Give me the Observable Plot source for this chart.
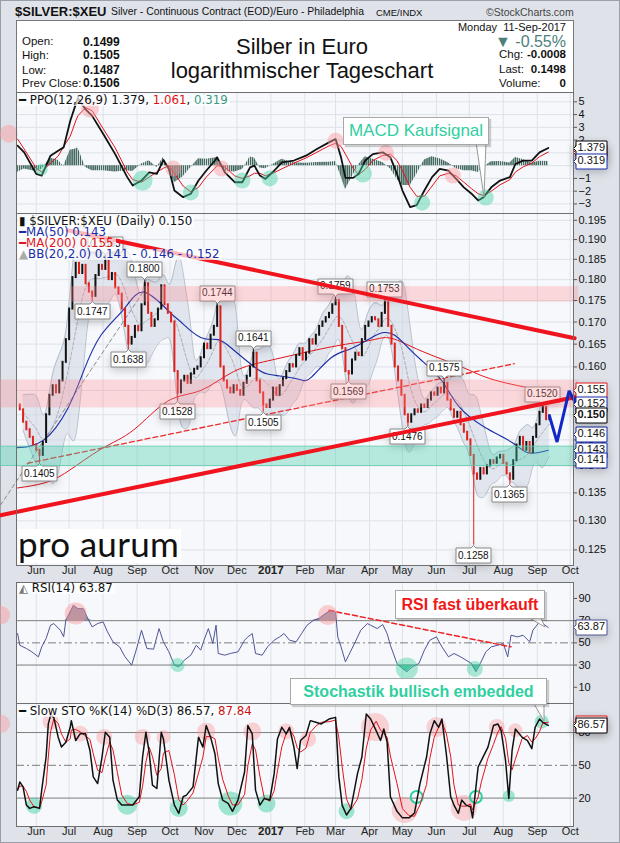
<!DOCTYPE html>
<html><head><meta charset="utf-8">
<script src="https://cdn.jsdelivr.net/npm/d3@7"></script>
<script src="https://cdn.jsdelivr.net/npm/@observablehq/plot@0.6"></script>
<style>
html,body{margin:0;padding:0;background:#fff;}
#wrap{position:relative;width:620px;height:843px;background:#dfe3e9;overflow:hidden;font-family:"Liberation Sans",Arial,sans-serif;color:#111;}
.a{position:absolute;white-space:nowrap;}
.leg{position:absolute;white-space:nowrap;font-family:"DejaVu Sans",sans-serif;font-size:11.8px;line-height:11px;background:rgba(255,255,255,0.7);padding:0 2px 0 1px;}
.call{position:absolute;background:#fff;border:1px solid #a8a8a8;box-shadow:2px 2px 1px rgba(0,0,0,0.18);text-align:center;white-space:nowrap;}
</style></head><body><div id="wrap"></div><script>
const wrap = document.getElementById("wrap");
const START = Date.UTC(2016, 4, 14);
const day = k => new Date(START + k * 864e5);
const X_DOMAIN = [day(0), day(508)];
const FONT = "'Liberation Sans', Arial, sans-serif";

// ---------- data ----------
const closeStepDays = 3;
const closes = [
0.1520,0.1510,0.1485,0.1470,0.1455,0.1440,0.1430,0.1420,0.1445,0.1500,
0.1540,0.1560,0.1545,0.1570,0.1610,0.1660,0.1730,0.1805,0.1840,0.1815,
0.1835,0.1790,0.1770,0.1760,0.1810,0.1835,0.1825,0.1845,0.1800,0.1815,
0.1780,0.1765,0.1730,0.1690,0.1650,0.1665,0.1690,0.1680,0.1740,0.1790,
0.1720,0.1690,0.1705,0.1730,0.1785,0.1740,0.1720,0.1700,0.1590,0.1545,
0.1570,0.1580,0.1565,0.1585,0.1595,0.1600,0.1620,0.1650,0.1640,0.1670,
0.1690,0.1735,0.1600,0.1570,0.1555,0.1545,0.1560,0.1550,0.1540,0.1565,
0.1580,0.1600,0.1630,0.1570,0.1545,0.1520,0.1515,0.1530,0.1555,0.1540,
0.1560,0.1575,0.1590,0.1605,0.1600,0.1625,0.1640,0.1615,0.1630,0.1660,
0.1650,0.1670,0.1690,0.1700,0.1710,0.1720,0.1740,0.1750,0.1690,0.1640,
0.1590,0.1585,0.1615,0.1630,0.1625,0.1660,0.1690,0.1700,0.1710,0.1705,
0.1690,0.1720,0.1745,0.1690,0.1650,0.1600,0.1570,0.1540,0.1500,0.1485,
0.1500,0.1510,0.1505,0.1520,0.1515,0.1530,0.1545,0.1540,0.1555,0.1545,
0.1565,0.1530,0.1510,0.1495,0.1505,0.1480,0.1465,0.1450,0.1420,0.1385,
0.1375,0.1395,0.1385,0.1400,0.1410,0.1405,0.1415,0.1420,0.1405,0.1385,
0.1375,0.1410,0.1440,0.1455,0.1430,0.1445,0.1425,0.1455,0.1480,0.1505,
0.1515,0.1490,0.1498];

const priceHighLabels = [[82,0.1863],[116,0.1800],[184,0.1744],[216,0.1641],[290,0.1759],[335,0.1753],[389,0.1575],[479,0.1520]];
const priceLowLabels = [[20,0.1405],[69,0.1747],[101,0.1638],[147,0.1528],[226,0.1505],[303,0.1569],[356,0.1476],[418,0.1258],[449,0.1365]];

const ma50 = [[0,0.1435],[25,0.145],[47,0.1514],[61,0.159],[77,0.167],[98,0.173],[116,0.177],[138,0.1727],[150,0.170],[168,0.1665],[184,0.166],[198,0.1637],[217,0.160],[229,0.1585],[248,0.1578],[260,0.1572],[269,0.1578],[287,0.162],[305,0.164],[324,0.1665],[335,0.1676],[345,0.167],[356,0.1645],[369,0.1615],[388,0.157],[403,0.1518],[427,0.1475],[452,0.1445],[467,0.1425],[485,0.143]];
const ma200 = [[1,0.1359],[25,0.1368],[47,0.139],[77,0.1432],[107,0.147],[138,0.1528],[168,0.155],[198,0.159],[229,0.1613],[260,0.163],[296,0.1648],[324,0.1659],[342,0.1663],[369,0.1635],[406,0.160],[436,0.1572],[476,0.1552],[485,0.155]];

const trendUpper = [[46.6,0.1924],[509,0.1663]];
const trendLower = [[-14.6,0.131],[509,0.1536]];
const trendRedDashed = [[10,0.1405],[454,0.1607]];
const trendGrayDashed = [[-14.6,0.1328],[118,0.178]];
const pinkBands = [[49.4,512.8,0.1746,0.1783],[-14.6,512.8,0.1514,0.1572]];
const tealBands = [[-14.6,512.8,0.1400,0.1437]];
const projection = [[486,0.1498],[493,0.1446],[504,0.1549],[509,0.1527],[515.5,0.1562]];

const priceTicks = [0.125,0.130,0.135,0.140,0.145,0.150,0.155,0.160,0.165,0.170,0.175,0.180,0.185,0.190,0.195];
const priceTickLabels = [0.125,0.130,0.135,0.140,0.145,0.160,0.165,0.170,0.175,0.180,0.185,0.190,0.195];
const priceTags = [[0.155,"#e3141b","0.155"],[0.152,"#1b2ca8","0.152"],[0.146,"#1b2ca8","0.146"],[0.143,"#1b2ca8","0.143"],[0.141,"#1b2ca8","0.141"]];
const priceLastTag = [[0.1498,"#000","0.150"]];

const ppoDays = [1,7,18,23,31,38,43,49,54,56,63,69,79,90,101,106,114,121,128,134,139,144,152,159,166,173,181,183,190,199,206,213,217,222,227,235,242,253,264,274,285,291,296,300,307,312,318,325,334,341,347,352,359,365,372,379,386,394,401,408,415,421,426,433,441,450,455,462,470,477,485];
const ppoLine = [1.56,1.04,-0.65,-0.78,0.78,1.17,1.43,3.5,4.8,5.3,4.4,3.9,2.5,0.9,-0.9,-1.56,-1.17,-0.52,-0.65,0.44,-0.26,-1.95,-2.47,-2.2,-1.17,-0.4,0.4,0.65,-0.52,-1.3,-1.3,-0.13,0,-0.78,-1.04,-0.4,0.26,0.4,0.78,1.3,1.82,2.08,0.65,-0.96,-0.96,-0.65,0.4,0.9,1.04,0.65,-0.65,-1.95,-3.25,-3.1,-1.95,-0.9,-0.26,-0.4,-1.04,-1.7,-2.2,-2.73,-2.47,-1.7,-1.17,-0.9,0.13,0.39,0.39,1.04,1.38];
const ppoSignal = [2.08,1.3,-0.2,-0.5,0.2,0.75,1.5,2.3,3.5,3.9,4.55,4.3,2.9,1.4,-0.5,-1.1,-1.3,-0.9,-0.5,-0.2,0,-0.6,-1.6,-2.05,-1.7,-0.9,-0.2,0,-0.1,-0.8,-1.0,-0.8,-0.6,-0.6,-0.8,-0.55,-0.25,0.2,0.6,1.05,1.55,1.75,1.5,0.9,-0.2,-0.7,-0.3,0.4,0.8,0.9,0.4,-0.4,-1.7,-2.4,-2.4,-1.6,-0.8,-0.6,-0.8,-1.3,-1.8,-2.2,-2.35,-2.0,-1.5,-1.1,-0.5,-0.1,0.2,0.7,1.06];
const ppoTicks = [-3,-2,-1,0,1,2,3,4,5];
const ppoTickLabels = [-3,-2,-1,2,3,4,5];
const ppoPink = [[-7,2.5,9],[67,4.46,9],[143,-0.23,8],[187,-0.23,8],[291,1.95,8],[337,1.0,8],[398,-0.78,8]];
const ppoGreen = [[23,-0.3,6],[115,-1.17,10],[159,-2.1,8],[206,-1.17,8],[231,-1.0,8],[316,-0.62,9],[370,-2.9,8],[428,-2.5,8]];

const rsiDays = [1,3,9,14,20,23,27,31,34,40,43,45,49,52,56,61,65,69,74,79,83,88,94,99,105,110,114,119,125,130,134,139,144,148,153,159,164,168,171,175,179,182,184,190,195,202,208,211,215,218,224,229,235,240,244,249,255,260,265,271,276,282,287,291,293,296,300,303,309,314,320,323,329,334,338,341,347,352,356,361,367,372,377,383,388,394,399,405,410,415,419,423,428,433,439,444,448,451,457,462,468,471,477,480,485];
const rsiValues = [58.4,47.9,44.9,41.9,37.4,46.4,53.9,65.9,67.4,61.4,55.4,70.4,77.8,83.8,80.8,80.8,71.9,64.4,67.4,68.9,59.9,50.9,46.4,37.4,29.9,46.4,61.4,44.9,44.3,62.9,50.9,41.9,29.9,28.4,34.4,38.9,47.9,43.4,52.4,62.9,49.4,65.9,40.4,38.9,40.4,41.9,52.4,55.4,58.4,40.4,38.9,46.4,52.4,55.4,58.4,52.4,50.9,58.4,65.9,70.4,71.9,76.4,79.3,77.8,55.4,46.4,32.9,38.9,50.9,61.4,67.4,65.9,62.9,66.5,58.4,47.9,31.4,26.9,24.0,28.4,31.4,43.4,52.4,55.4,46.4,37.4,40.4,37.4,34.4,31.4,24.0,31.4,41.9,46.4,47.9,49.4,37.4,56.9,55.4,56.9,50.9,61.4,68.9,67.4,63.87];
const rsiTicks = [10,30,50,70,90];
const rsiTrend = [[285,79.3],[451,46.4]];
const rsiPink = [[-14,75,9],[54,76.5,11],[284,75,10]];
const rsiGreen = [[147,30,7],[356,27,11],[418,26.5,8]];

const stoDays = [1,3,6,9,12,16,21,23,27,29,31,34,38,41,45,49,50,54,58,63,67,70,74,78,81,85,88,92,96,101,106,112,115,118,121,124,128,132,134,139,144,148,152,155,161,166,170,173,177,181,184,188,193,197,202,208,211,215,218,222,226,231,235,238,242,246,249,253,256,259,264,268,273,278,285,291,294,297,301,305,311,315,319,323,328,332,335,338,341,347,352,358,363,368,374,377,381,385,388,392,396,399,403,406,410,414,416,421,424,430,435,439,442,446,449,452,455,461,466,470,473,477,480,485];
const stoK = [27.3,34.8,30.3,13.6,10.6,12.1,10.6,27.3,57.6,87.9,95.5,93.9,75.8,66.7,71.2,84.8,90.9,72.7,78.8,78.8,63.6,39.4,33.3,57.6,80.3,75.8,36.4,18.2,13.6,13.6,13.6,21.2,57.6,80.3,62.1,31.8,28.8,80.3,74.2,36.4,13.6,6.1,21.2,22.7,30.3,75.8,66.7,86.4,75.8,60.6,33.3,18.2,15.2,7.9,18.2,43.9,86.4,78.8,27.3,13.6,19.7,18.2,42.4,74.2,84.8,78.8,84.8,66.7,47.0,72.7,77.3,90.9,89.4,87.9,92.4,93.9,39.4,13.6,4.5,10.6,42.4,57.6,97.0,92.4,81.8,72.7,83.3,71.2,21.2,7.9,1.9,1.9,6.4,33.3,57.6,78.8,90.9,84.8,92.4,60.6,21.2,13.6,6.1,18.2,13.6,12.1,1.9,48.5,54.5,66.7,86.4,87.9,81.8,54.5,19.7,63.6,83.3,75.8,72.7,65.2,84.8,92.4,89.4,86.57];
const stoTicks = [20,50,80];
const stoPink = [[-14,88,9],[31,90,8],[58,79,8],[80,76,8],[115,76,8],[134,76,7],[173,81,9],[215,81,9],[246,81,8],[266,74,8],[327,85,14],[383,85,10],[438,85,8],[455,82,7],[354,9,13],[408,11,13]];
const stoGreen = [[16,13,8],[101,14,10],[148,11,9],[195,15,12],[228,15,9],[301,8,8],[449,22,6],[479,90,7]];
const stoRings = [[365,21,6],[419,21,6]];

const monthDates = ["2016-06-01","2016-07-01","2016-08-01","2016-09-01","2016-10-01","2016-11-01","2016-12-01","2017-01-01","2017-02-01","2017-03-01","2017-04-01","2017-05-01","2017-06-01","2017-07-01","2017-08-01","2017-09-01","2017-10-01"];
const monthLabels = ["Jun","Jul","Aug","Sep","Oct","Nov","Dec","2017","Feb","Mar","Apr","May","Jun","Jul","Aug","Sep","Oct"];

// ---------- derived tables ----------
const months = monthDates.map((s, i) => ({date: new Date(s), label: monthLabels[i], bold: monthLabels[i] === "2017"}));
const candles = closes.slice(1).map((c, j) => ({date: day((j + 1) * closeStepDays), open: closes[j], close: c}));
const bb = closes.map((c, i) => {
  const w = closes.slice(Math.max(0, i - 6), i + 1);
  const m = d3.mean(w), s = w.length > 1 ? d3.deviation(w) : 0;
  return {date: day(i * closeStepDays), mid: m, hi: m + 2 * s, lo: m - 2 * s};
}).slice(2);
const snap = ([k, v]) => { const i = Math.round(k / closeStepDays); return {date: day(i * closeStepDays), v, close: closes[i], label: v.toFixed(4)}; };
const hiLab = priceHighLabels.map(snap), loLab = priceLowLabels.map(snap);
const pts = arr => arr.map(([k, v, r]) => ({date: day(k), v, r}));
const ppo = ppoDays.map((k, i) => ({date: day(k), p: ppoLine[i], s: ppoSignal[i], h: ppoLine[i] - ppoSignal[i]}));
const rsi = rsiDays.map((k, i) => ({date: day(k), v: rsiValues[i]}));
const sto = stoDays.map((k, i) => ({date: day(k), k: stoK[i], d: d3.mean(stoK.slice(Math.max(0, i - 2), i + 1))}));

// ---------- helpers ----------
const bgFrame = () => Plot.frame({fill: "#f6f8fb", stroke: "none"});
const edge = () => Plot.frame({stroke: "#6f6f6f"});
const monthRules = () => Plot.ruleX(months, {x: "date", stroke: "#dde2e9"});
const monthText = () => [
  Plot.text(months.filter(m => !m.bold), {x: "date", text: "label", frameAnchor: "bottom", dy: 8, fontSize: 11, fill: "#222"}),
  Plot.text(months.filter(m => m.bold), {x: "date", text: "label", frameAnchor: "bottom", dy: 8, fontSize: 11.5, fontWeight: "bold", fill: "#222"})
];
const tags = (rows, color, extra = {}) => Plot.tip(rows, {x: () => X_DOMAIN[1], y: d => d[0], title: d => d[2], anchor: "left", fill: "white", stroke: color, pointerSize: 5, textPadding: 1.5, fontSize: 11, fontFamily: FONT, ...extra});
const rightAxis = (ticks, fmt) => Plot.axisY({anchor: "right", ticks, tickFormat: fmt, tickSize: 3, tickPadding: 2, fontSize: 11, stroke: "#555", label: null});
const dots = (rows, fill, stroke) => Plot.dot(pts(rows), {x: "date", y: "v", r: "r", fill, stroke: stroke || "none", strokeWidth: 2});

function addPanel(top, height, marginBottom, yOpts, marks, defs) {
  const svg = Plot.plot({
    width: 620, height, marginLeft: 16, marginRight: 47, marginTop: 0, marginBottom,
    x: {type: "utc", domain: X_DOMAIN, axis: null},
    y: {...yOpts, label: null}, r: {type: "identity"},
    style: {background: "transparent", overflow: "visible", fontFamily: FONT, fontSize: "11px", color: "#111"},
    marks
  });
  if (defs) { const d = document.createElementNS("http://www.w3.org/2000/svg", "defs"); d.innerHTML = defs; svg.insertBefore(d, svg.firstChild); }
  Object.assign(svg.style, {position: "absolute", left: "0px", top: top + "px"});
  wrap.appendChild(svg);
}

// ---------- header ----------
wrap.insertAdjacentHTML("beforeend", `
<div class="a" style="left:0;top:0;width:620px;height:843px;box-sizing:border-box;border:1px solid #9aa0a8;"></div>
<div class="a" style="left:15px;top:4px;font-weight:bold;font-size:13px;">$SILVER:$XEU</div>
<div class="a" style="left:111px;top:5.5px;font-size:10.4px;">Silver - Continuous Contract (EOD)/Euro - Philadelphia</div>
<div class="a" style="left:376px;top:7px;font-size:9.5px;">CME/INDX</div>
<div class="a" style="left:486px;top:5.5px;font-size:10.5px;color:#444;">©StockCharts.com</div>
<div class="a" style="left:16px;top:20px;width:556px;height:72px;background:#fff;border:1px solid #777;border-bottom:none;"></div>
<div class="a" style="right:54px;top:21px;font-size:11px;">Monday&nbsp; 11-Sep-2017</div>
<div class="a" style="right:54px;top:33px;font-size:16px;color:#4e7f7b;">▼ -0.55%</div>
<div class="a" style="left:499px;top:48px;width:67px;font-size:11.5px;display:flex;justify-content:space-between;"><span>Chg:</span><b>-0.0008</b></div>
<div class="a" style="left:499px;top:63px;width:67px;font-size:11.5px;display:flex;justify-content:space-between;"><span>Last:</span><b>0.1498</b></div>
<div class="a" style="left:499px;top:76.5px;width:67px;font-size:11.5px;display:flex;justify-content:space-between;"><span>Volume:</span><b>0</b></div>
<div class="a" style="left:22px;top:35px;font-size:11.5px;">Open:</div><div class="a" style="left:83px;top:34.5px;font-size:12px;font-weight:bold;">0.1499</div>
<div class="a" style="left:22px;top:48.5px;font-size:11.5px;">High:</div><div class="a" style="left:83px;top:48px;font-size:12px;font-weight:bold;">0.1505</div>
<div class="a" style="left:22px;top:63.5px;font-size:11.5px;">Low:</div><div class="a" style="left:83px;top:63px;font-size:12px;font-weight:bold;">0.1487</div>
<div class="a" style="left:22px;top:76.5px;font-size:11.5px;">Prev Close:</div><div class="a" style="left:83px;top:76px;font-size:12px;font-weight:bold;">0.1506</div>
<div class="a" style="left:152px;top:34px;width:300px;text-align:center;font-size:22px;line-height:26px;">Silber in Euro</div>
<div class="a" style="left:152px;top:58px;width:300px;text-align:center;font-size:22px;line-height:26px;">logarithmischer Tageschart</div>
`);

// ---------- PPO panel ----------
addPanel(92, 121, 0, {domain: [-3.75, 5.73]}, [
  bgFrame(),
  Plot.ruleY(ppoTicks, {stroke: "#dde2e9"}),
  monthRules(),
  Plot.areaY(ppo, {x: "date", y: "h", fill: "url(#histHatch)"}),
  Plot.line(ppo, {x: "date", y: "s", stroke: "#e3141b", strokeWidth: 1}),
  Plot.line(ppo, {x: "date", y: "p", stroke: "#111", strokeWidth: 1.8}),
  dots(ppoPink, "rgba(250,150,155,0.45)"),
  dots(ppoGreen, "rgba(70,210,165,0.45)"),
  rightAxis(ppoTickLabels, d3.format("d")),
  tags([[1.061, "#e3141b", "1.061"]], "#e3141b"),
  tags([[1.379, "#000", "1.379"]], "#000"),
  tags([[0.319, "#1b2ca8", "0.319"]], "#1b2ca8"),
  edge()
], '<pattern id="histHatch" width="2.1" height="20" patternUnits="userSpaceOnUse"><rect width="1.5" height="20" fill="#44695f"/></pattern>');

// ---------- price panel ----------
const kd = arr => arr.map(([k, v]) => ({date: day(k), v}));
addPanel(213, 368, 16, {type: "log", domain: [0.1224, 0.1968]}, [
  bgFrame(),
  Plot.ruleY(priceTicks, {stroke: "#dde2e9"}),
  monthRules(),
  Plot.areaY(bb, {x: "date", y1: "lo", y2: "hi", fill: "#cdd5e4", fillOpacity: 0.55, curve: "basis"}),
  Plot.line(bb, {x: "date", y: "hi", stroke: "#a9b1c1", strokeWidth: 0.8, curve: "basis"}),
  Plot.line(bb, {x: "date", y: "lo", stroke: "#a9b1c1", strokeWidth: 0.8, curve: "basis"}),
  Plot.line(bb, {x: "date", y: "mid", stroke: "#9a9a9a", strokeWidth: 0.8, strokeDasharray: "3,2", curve: "basis"}),
  Plot.line(kd(trendGrayDashed), {x: "date", y: "v", stroke: "#8a8a8a", strokeWidth: 1, strokeDasharray: "4,3"}),
  Plot.line(kd(ma200), {x: "date", y: "v", stroke: "#e3141b", strokeWidth: 1, curve: "natural"}),
  Plot.line(kd(ma50), {x: "date", y: "v", stroke: "#1b2ca8", strokeWidth: 1.1, curve: "natural"}),
  Plot.ruleX([...hiLab, ...loLab], {x: "date", y1: "close", y2: "v", stroke: d => d.v > d.close ? "#111" : "#e0201b", strokeWidth: 1}),
  Plot.ruleX(candles.filter(c => c.close >= c.open), {x: "date", y1: "open", y2: "close", stroke: "#111", strokeWidth: 2, strokeLinecap: "square"}),
  Plot.ruleX(candles.filter(c => c.close < c.open), {x: "date", y1: "open", y2: "close", stroke: "#e0201b", strokeWidth: 2, strokeLinecap: "square"}),
  Plot.line(kd(trendRedDashed), {x: "date", y: "v", stroke: "#ef2a2a", strokeWidth: 1.3, strokeDasharray: "5,3"}),
  Plot.tip(hiLab, {x: "date", y: "v", title: "label", anchor: "bottom", fill: "white", stroke: "#888", pointerSize: 5, textPadding: 2, fontSize: 10, fontFamily: FONT}),
  Plot.tip(loLab, {x: "date", y: "v", title: "label", anchor: "top", fill: "white", stroke: "#888", pointerSize: 5, textPadding: 2, fontSize: 10, fontFamily: FONT}),
  Plot.rect(pinkBands, {x1: d => day(d[0]), x2: d => day(d[1]), y1: d => d[2], y2: d => d[3], fill: "#ff8a92", fillOpacity: 0.3}),
  Plot.rect(tealBands, {x1: d => day(d[0]), x2: d => day(d[1]), y1: d => d[2], y2: d => d[3], fill: "#46d0ab", fillOpacity: 0.36, stroke: "#5fcaae", strokeWidth: 0.8}),
  Plot.line(kd(trendUpper), {x: "date", y: "v", stroke: "#f0141e", strokeWidth: 4}),
  Plot.line(kd(trendLower), {x: "date", y: "v", stroke: "#f0141e", strokeWidth: 4}),
  Plot.line(kd(projection).slice(0, 4), {x: "date", y: "v", stroke: "#1428c8", strokeWidth: 3, strokeLinejoin: "miter"}),
  Plot.arrow([[projection[3], projection[4]]], {x1: d => day(d[0][0]), y1: d => d[0][1], x2: d => day(d[1][0]), y2: d => d[1][1], stroke: "#1428c8", strokeWidth: 3, headLength: 9}),
  rightAxis(priceTickLabels, d3.format(".3f")),
  ...priceTags.map(t => tags([t], t[1])),
  tags(priceLastTag, "#000", {fontWeight: "bold"}),
  edge(),
  ...monthText()
]);

// ---------- RSI panel ----------
addPanel(582, 121, 0, {domain: [-4.65, 104.4]}, [
  bgFrame(),
  monthRules(),
  Plot.areaY(rsi, {x: "date", y1: 70, y2: d => Math.max(70, d.v), fill: "#9094a8"}),
  Plot.areaY(rsi, {x: "date", y1: 30, y2: d => Math.min(30, d.v), fill: "#3fc79f"}),
  Plot.ruleY([70, 30], {stroke: "#7d7d7d"}),
  Plot.ruleY([50], {stroke: "#7d7d7d", strokeDasharray: "8,3,2,3"}),
  Plot.line(rsi, {x: "date", y: "v", stroke: "#4f5596", strokeWidth: 1}),
  Plot.line(kd(rsiTrend), {x: "date", y: "v", stroke: "#ee2222", strokeWidth: 1.5, strokeDasharray: "5,3"}),
  dots(rsiPink, "rgba(250,150,155,0.45)"),
  dots(rsiGreen, "rgba(70,210,165,0.45)"),
  rightAxis(rsiTicks, d3.format("d")),
  tags([[63.87, "#4f5596", "63.87"]], "#4f5596"),
  edge()
]);

// ---------- STO panel ----------
addPanel(703, 140, 17, {domain: [-6, 106.6]}, [
  bgFrame(),
  monthRules(),
  Plot.ruleY([80, 20], {stroke: "#7d7d7d"}),
  Plot.ruleY([50], {stroke: "#7d7d7d", strokeDasharray: "8,3,2,3"}),
  dots(stoPink, "rgba(250,150,155,0.4)"),
  dots(stoGreen, "rgba(70,210,165,0.5)"),
  dots(stoRings, "none", "#2fcf9f"),
  Plot.line(sto, {x: "date", y: "d", stroke: "#e3141b", strokeWidth: 1}),
  Plot.line(sto, {x: "date", y: "k", stroke: "#111", strokeWidth: 1.5}),
  rightAxis(stoTicks, d3.format("d")),
  tags([[87.84, "#e3141b", "87.84"]], "#e3141b"),
  tags([[86.57, "#000", "86.57"]], "#000"),
  edge(),
  ...monthText()
]);

// ---------- legends, callouts, logo ----------
wrap.insertAdjacentHTML("beforeend", `
<div class="leg" style="left:18px;top:95px;"><b>━</b> PPO(12,26,9) 1.379, <span style="color:#d11">1.061</span>, <span style="color:#3a9a80">0.319</span></div>
<div class="leg" style="left:18px;top:216px;">▮ $SILVER:$XEU (Daily) 0.150</div>
<div class="leg" style="left:18px;top:227px;color:#1b2ca8;"><b>━</b>MA(50) 0.143</div>
<div class="leg" style="left:18px;top:238px;color:#e3141b;"><b>━</b>MA(200) 0.155</div>
<div class="leg" style="left:18px;top:249px;color:#1b2ca8;"><span style="color:#aaa">▲</span>BB(20,2.0) 0.141 - 0.146 - 0.152</div>
<div class="leg" style="left:18px;top:583px;"><span style="color:#777">◭</span> RSI(14) 63.87</div>
<div class="leg" style="left:18px;top:706px;"><b>━</b> Slow STO %K(14) %D(3) 86.57, <span style="color:#c11">87.84</span></div>
<div class="a" style="left:18px;top:529px;width:163px;height:34px;background:#fff;font-family:Lato,'DejaVu Sans',sans-serif;font-weight:400;font-size:35px;line-height:29px;color:#111;letter-spacing:0.3px;">pro aurum</div>
<svg class="a" width="620" height="843" style="left:0;top:0;overflow:visible">
<polygon points="476,142 486,142 484,197" fill="#fff" stroke="#999"/>
<polygon points="526,616 540,616 545,627" fill="#fff" stroke="#999"/>
<polygon points="533,702 544,702 544,721" fill="#fff" stroke="#999"/>
</svg>
<div class="call" style="left:343px;top:117px;width:144px;height:26px;line-height:26px;font-size:17px;color:#2fcf9f;">MACD Kaufsignal</div>
<div class="call" style="left:395px;top:590px;width:148px;height:27px;line-height:27px;font-size:16px;font-weight:bold;color:#f01818;">RSI fast überkauft</div>
<div class="call" style="left:290px;top:678px;width:255px;height:25px;line-height:25px;font-size:16px;font-weight:bold;color:#2fcf9f;">Stochastik bullisch embedded</div>
`);
</script></body></html>
